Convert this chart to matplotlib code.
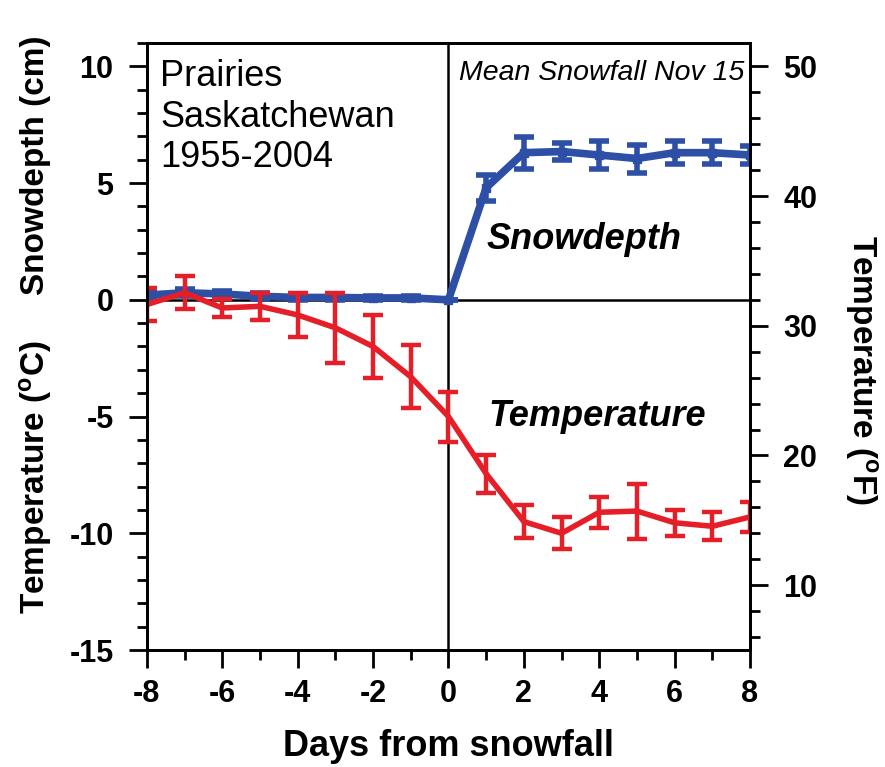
import matplotlib
matplotlib.use('AGG')
import matplotlib.pyplot as plt
from matplotlib.ticker import MultipleLocator
import numpy as np

plt.rcParams['font.family'] = ['Liberation Sans', 'DejaVu Sans']
plt.rcParams['mathtext.fontset'] = 'custom'
plt.rcParams['mathtext.rm'] = 'Liberation Sans:bold'
plt.rcParams['mathtext.it'] = 'Liberation Sans:bold'
plt.rcParams['axes.unicode_minus'] = False

# data
days = [-8, -7, -6, -5, -4, -3, -2, -1, 0, 1, 2, 3, 4, 5, 6, 7, 8]
snow = [0.2, 0.3, 0.25, 0.15, 0.1, 0.1, 0.08, 0.08, 0.0,
        4.8, 6.3, 6.35, 6.2, 6.05, 6.3, 6.3, 6.2]
snow_err = [0.15, 0.15, 0.12, 0.12, 0.1, 0.1, 0.08, 0.08, 0.0,
            0.55, 0.68, 0.35, 0.6, 0.6, 0.5, 0.5, 0.4]
temp = [-0.2, 0.3, -0.35, -0.28, -0.65, -1.2, -2.0, -3.3, -5.0,
        -7.45, -9.5, -10.0, -9.1, -9.05, -9.55, -9.7, -9.3]
temp_err = [0.7, 0.7, 0.4, 0.58, 0.95, 1.5, 1.35, 1.35, 1.07,
            0.82, 0.72, 0.68, 0.67, 1.18, 0.55, 0.6, 0.65]

blue = '#2d4fa6'
red = '#e61e28'

fig = plt.figure(figsize=(8.85, 7.67), dpi=100)
ax = fig.add_axes([0.166, 0.1525, 0.6815, 0.7915])

ax.axhline(0, color='black', lw=1.8, zorder=1)
ax.axvline(0, color='black', lw=1.8, zorder=1)

ax.errorbar(days, snow, yerr=snow_err, color=blue, lw=5.5, elinewidth=4,
            capsize=7.5, capthick=4, marker='s', ms=6, zorder=3)
ax.errorbar(days, temp, yerr=temp_err, color=red, lw=4, elinewidth=3.2,
            capsize=7.5, capthick=3.2, zorder=4)

ax.set_xlim(-8, 8)
ax.set_ylim(-15, 11)
ax.xaxis.set_major_locator(MultipleLocator(2))
ax.xaxis.set_minor_locator(MultipleLocator(1))
ax.yaxis.set_major_locator(MultipleLocator(5))
ax.yaxis.set_minor_locator(MultipleLocator(1))

ax2 = ax.twinx()
ax2.set_ylim(-15 * 1.8 + 32, 11 * 1.8 + 32)
ax2.yaxis.set_major_locator(MultipleLocator(10))
ax2.yaxis.set_minor_locator(MultipleLocator(2))

for a in (ax, ax2):
    a.tick_params(which='major', direction='out', length=13, width=2,
                  labelsize=22, pad=8)
    a.tick_params(which='minor', direction='out', length=7, width=2)
    for s in a.spines.values():
        s.set_linewidth(2)
    for lab in a.get_xticklabels() + a.get_yticklabels():
        lab.set_fontweight('bold')
ax.tick_params(axis='y', pad=11)
ax2.tick_params(axis='y', pad=11)

ax.set_xlabel('Days from snowfall', fontsize=26, fontweight='bold', labelpad=14)

fig.text(0.04, 0.784, 'Snowdepth (cm)', rotation=90, fontsize=24,
         fontweight='bold', ha='center', va='center')
fig.text(0.04, 0.378, 'Temperature ($^\\mathrm{o}$C)', rotation=90, fontsize=24,
         fontweight='bold', ha='center', va='center')
fig.text(0.974, 0.518, 'Temperature ($^\\mathrm{o}$F)', rotation=-90, fontsize=24,
         fontweight='bold', ha='center', va='center')

ax.text(-7.65, 10.3, 'Prairies\nSaskatchewan\n1955-2004', fontsize=26,
        va='top', ha='left', linespacing=1.2)
ax.text(7.85, 9.7, 'Mean Snowfall Nov 15', fontsize=20.5, style='italic',
        ha='right', va='center')
ax.text(3.6, 2.6, 'Snowdepth', fontsize=26, style='italic', fontweight='bold',
        ha='center', va='center')
ax.text(3.95, -5.0, 'Temperature', fontsize=26, style='italic', fontweight='bold',
        ha='center', va='center')

fig.savefig('out.png', dpi=100)
